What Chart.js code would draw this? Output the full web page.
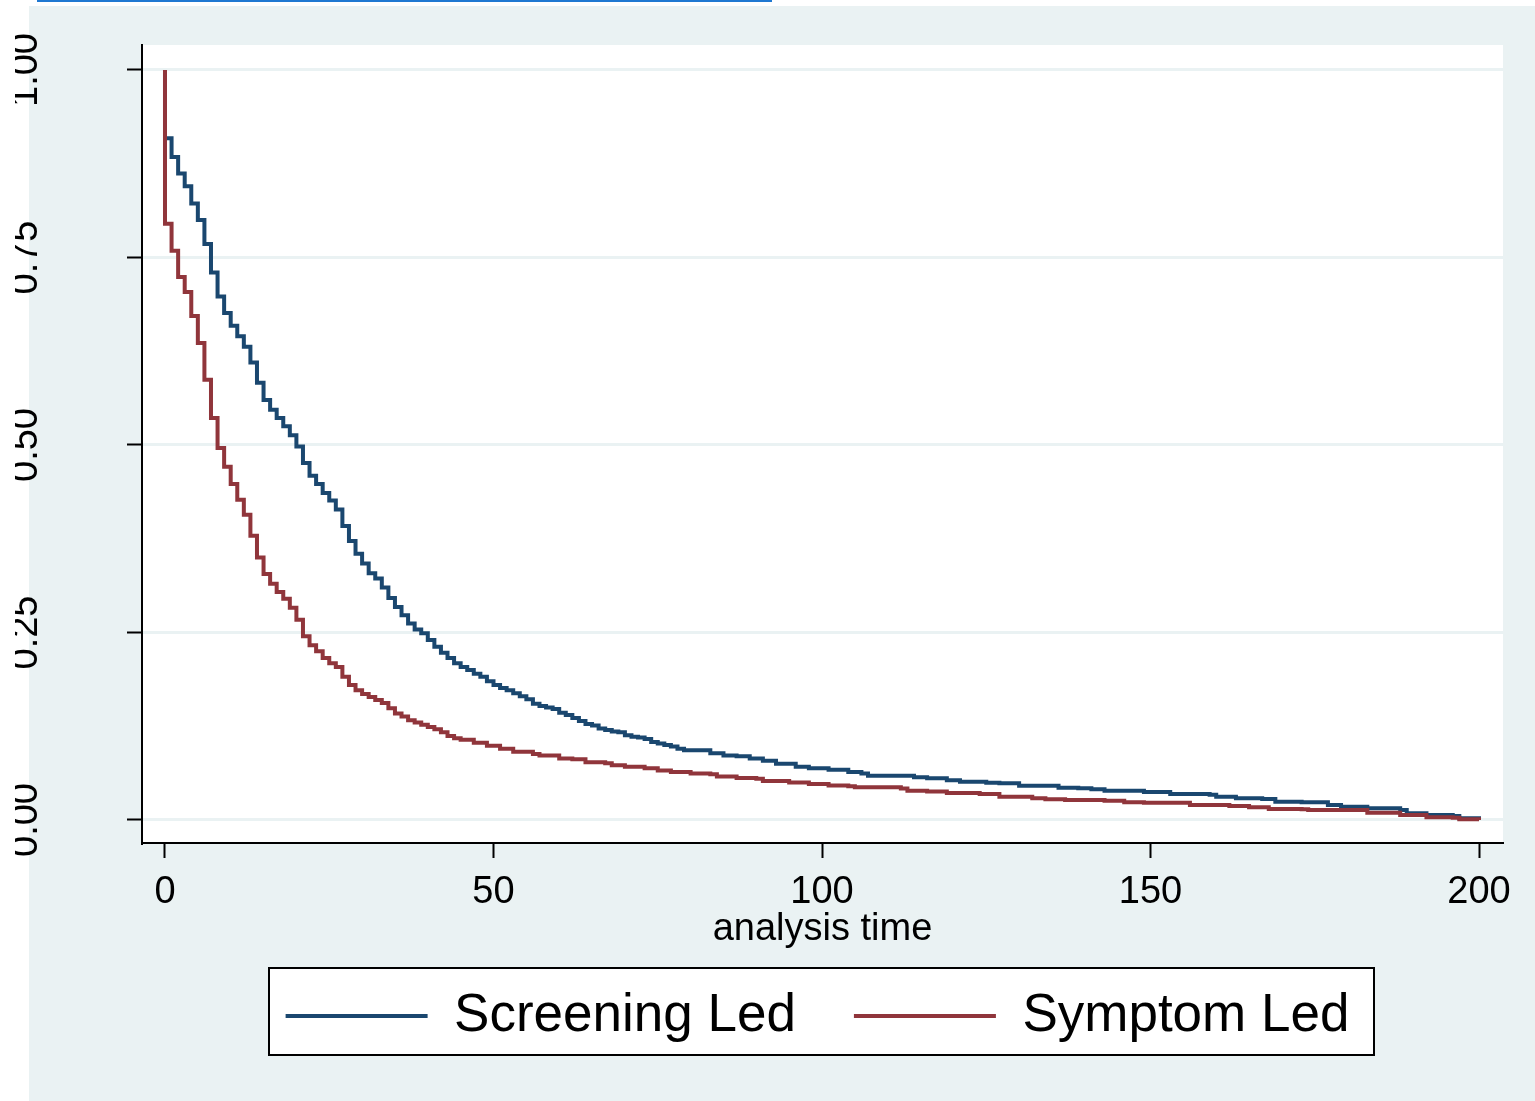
<!DOCTYPE html>
<html>
<head>
<meta charset="utf-8">
<script src="https://cdn.jsdelivr.net/npm/chart.js@4/dist/chart.umd.min.js"></script>
<style>
  html, body { margin: 0; padding: 0; background: #ffffff; }
  #wrap { width: 1535px; height: 1101px; }
</style>
</head>
<body>
<div id="wrap"><canvas id="c" width="1535" height="1101"></canvas></div>
<script>
// ---- data (Kaplan-Meier steps) ----
const seriesNames = ['Screening Led', 'Symptom Led'];

const screeningTime = [0, 0, 1, 2, 3, 4, 5, 6, 7, 8, 9, 10, 11, 12, 13, 14, 15, 16, 17, 18, 19,
  20, 21, 22, 23, 24, 25, 26, 27, 28, 29, 30, 31, 32, 33, 34, 35, 36, 37, 38, 39,
  40, 41, 42, 43, 44, 45, 46, 47, 48, 49, 50, 51, 52, 53, 54, 55, 56, 57, 58, 59,
  60, 61, 62, 63, 64, 65, 66, 67, 68, 69, 70, 71, 72, 73, 74, 75, 76, 77, 78, 79,
  83, 85, 87, 89, 91, 93, 96, 98, 101, 104, 106, 107, 114, 116, 119, 121, 125, 127,
  130, 136, 139, 141, 143, 149, 153, 159, 160, 163, 167, 169, 173, 177, 179, 183,
  188, 189, 192, 196, 197, 200];
const screeningSurv = [1.0, 0.909, 0.884, 0.862, 0.845, 0.822, 0.800, 0.768, 0.730, 0.698, 0.676,
  0.659, 0.645, 0.631, 0.610, 0.583, 0.560, 0.547, 0.536, 0.525, 0.513,
  0.498, 0.476, 0.459, 0.448, 0.436, 0.426, 0.414, 0.392, 0.372, 0.355,
  0.342, 0.329, 0.322, 0.310, 0.296, 0.284, 0.273, 0.262, 0.254, 0.249,
  0.240, 0.231, 0.223, 0.216, 0.209, 0.204, 0.200, 0.195, 0.191, 0.185,
  0.180, 0.176, 0.173, 0.169, 0.165, 0.161, 0.155, 0.152, 0.150, 0.148,
  0.143, 0.140, 0.136, 0.132, 0.128, 0.126, 0.122, 0.120, 0.118, 0.117,
  0.113, 0.111, 0.110, 0.108, 0.104, 0.102, 0.100, 0.098, 0.095, 0.093,
  0.089, 0.086, 0.085, 0.082, 0.079, 0.075, 0.071, 0.069, 0.067, 0.064, 0.062, 0.059,
  0.057, 0.0556, 0.053, 0.051, 0.0498, 0.0489,
  0.0458, 0.0431, 0.0422, 0.041, 0.039, 0.0373, 0.0347, 0.0338, 0.031, 0.029, 0.028,
  0.0244, 0.0236, 0.020, 0.0178, 0.0156,
  0.0133, 0.0089, 0.0067, 0.0053, 0.0022, 0.001];

const symptomTime = [0, 0, 1, 2, 3, 4, 5, 6, 7, 8, 9, 10, 11, 12, 13, 14, 15, 16, 17, 18, 19,
  20, 21, 22, 23, 24, 25, 26, 27, 28, 29, 30, 31, 32, 33, 34, 35, 36, 37, 38, 39,
  40, 41, 42, 43, 44, 45, 47, 49, 51, 53, 56, 57, 60, 62, 64, 67, 68, 70, 73, 75,
  77, 80, 83, 84, 87, 90, 91, 95, 98, 101, 104, 105, 112, 113, 116, 119, 124, 127,
  132, 134, 137, 143, 146, 149, 156, 162, 165, 168, 173, 174, 183, 188, 192, 196, 197, 200];
const symptomSurv = [1.0, 0.795, 0.759, 0.724, 0.704, 0.672, 0.636, 0.587, 0.536, 0.496, 0.471,
  0.448, 0.427, 0.407, 0.379, 0.350, 0.328, 0.315, 0.304, 0.295, 0.283,
  0.267, 0.245, 0.233, 0.225, 0.216, 0.209, 0.204, 0.191, 0.180, 0.173,
  0.168, 0.164, 0.160, 0.156, 0.149, 0.142, 0.138, 0.133, 0.130, 0.127,
  0.124, 0.121, 0.117, 0.112, 0.109, 0.107, 0.103, 0.099, 0.095, 0.091, 0.088, 0.086,
  0.082, 0.081, 0.077, 0.0756, 0.073, 0.071, 0.069, 0.066,
  0.064, 0.062, 0.061, 0.058, 0.056, 0.055, 0.052, 0.050, 0.048, 0.046, 0.045, 0.0436,
  0.042, 0.039, 0.038, 0.036, 0.0347, 0.031,
  0.029, 0.0276, 0.0267, 0.0258, 0.0236, 0.0231, 0.020, 0.0187, 0.0169, 0.0147, 0.0142,
  0.0133, 0.0098, 0.0067, 0.0036, 0.0031, 0.001, 0.0];

const xTicks = [0, 50, 100, 150, 200];
const yTicks = [0, 0.25, 0.5, 0.75, 1];
const yTickLabels = ['0.00', '0.25', '0.50', '0.75', '1.00'];
const xAxisTitle = 'analysis time';

// ---- styling / drawing ----
const FONT = "'Liberation Sans', Arial, Helvetica, sans-serif";
Chart.defaults.font.family = FONT;
Chart.defaults.color = '#000000';

const stataBackground = {
  id: 'stataBackground',
  afterLayout(chart) {
    if (chart.legend) { chart.legend.left -= 5; chart.legend.right -= 5; }
  },
  beforeDraw(chart) {
    const { ctx, width, height, chartArea: a, legend } = chart;
    ctx.save();
    ctx.fillStyle = '#ffffff';
    ctx.fillRect(0, 0, width, height);
    ctx.fillStyle = '#EAF2F3';
    ctx.fillRect(29, 6, width - 29, height - 6);
    ctx.fillStyle = '#1F78D1';
    ctx.fillRect(37, 0, 735, 2);
    ctx.fillStyle = '#ffffff';
    ctx.fillRect(a.left, a.top, a.right - a.left, a.bottom - a.top);
    if (legend) {
      const cx = (a.left + a.right) / 2 - 1;
      const top = legend.top + legend.options.labels.padding - 21.5;
      ctx.fillRect(cx - 552.5, top, 1105, 87);
      ctx.strokeStyle = '#000000';
      ctx.lineWidth = 2;
      ctx.strokeRect(cx - 552.5, top, 1105, 87);
    }
    ctx.restore();
  }
};

new Chart(document.getElementById('c'), {
  type: 'line',
  data: {
    datasets: [
      {
        label: seriesNames[0],
        data: screeningTime.map((t, i) => ({ x: t, y: screeningSurv[i] })),
        borderColor: '#1A476F',
        backgroundColor: '#1A476F',
        borderWidth: 4,
        pointRadius: 0,
        pointStyle: 'line',
        stepped: 'before',
        fill: false,
        order: 1
      },
      {
        label: seriesNames[1],
        data: symptomTime.map((t, i) => ({ x: t, y: symptomSurv[i] })),
        borderColor: '#90353B',
        backgroundColor: '#90353B',
        borderWidth: 4,
        pointRadius: 0,
        pointStyle: 'line',
        stepped: 'before',
        fill: false,
        order: 0
      }
    ]
  },
  options: {
    responsive: false,
    devicePixelRatio: 1,
    animation: false,
    events: [],
    layout: { padding: { top: 45, right: 32, bottom: 48.5, left: 15 } },
    scales: {
      x: {
        type: 'linear',
        position: 'bottom',
        min: -3.5,
        max: 203.65,
        afterBuildTicks: (s) => { s.ticks = xTicks.map(v => ({ value: v })); },
        afterFit: (s) => { s.height = 88.5; },
        grid: { drawOnChartArea: false, drawTicks: true, tickLength: 15, tickColor: '#000000', tickWidth: 2 },
        border: { display: true, color: '#000000', width: 2 },
        ticks: {
          autoSkip: false, minRotation: 0, maxRotation: 0, padding: 12,
          color: '#000000', font: { size: 38 },
          callback: (v) => String(v)
        },
        title: {
          display: true, text: xAxisTitle, color: '#000000',
          font: { size: 38 }, padding: { top: 0, bottom: -21 }
        }
      },
      y: {
        type: 'linear',
        position: 'left',
        min: -0.0307,
        max: 1.0333,
        afterBuildTicks: (s) => { s.ticks = yTicks.map(v => ({ value: v })); },
        afterFit: (s) => { s.width = 127; s.paddingTop = 0; s.paddingBottom = 0; },
        grid: { color: '#EAF2F3', lineWidth: 3, drawTicks: true, tickLength: 15, tickColor: '#000000', tickWidth: 2 },
        border: { display: true, color: '#000000', width: 2 },
        ticks: {
          autoSkip: false, minRotation: 90, maxRotation: 90,
          crossAlign: 'center', padding: 63.5,
          color: '#000000', font: { size: 38 },
          callback: (v) => yTickLabels[yTicks.indexOf(v)]
        }
      }
    },
    plugins: {
      tooltip: { enabled: false },
      title: { display: false },
      legend: {
        display: true,
        position: 'bottom',
        fullSize: false,
        align: 'center',
        labels: {
          usePointStyle: true,
          pointStyle: 'line',
          pointStyleWidth: 142,
          padding: 58,
          color: '#000000',
          font: { size: 53 },
          sort: (a, b) => a.datasetIndex - b.datasetIndex
        }
      }
    }
  },
  plugins: [stataBackground]
});
</script>
</body>
</html>
